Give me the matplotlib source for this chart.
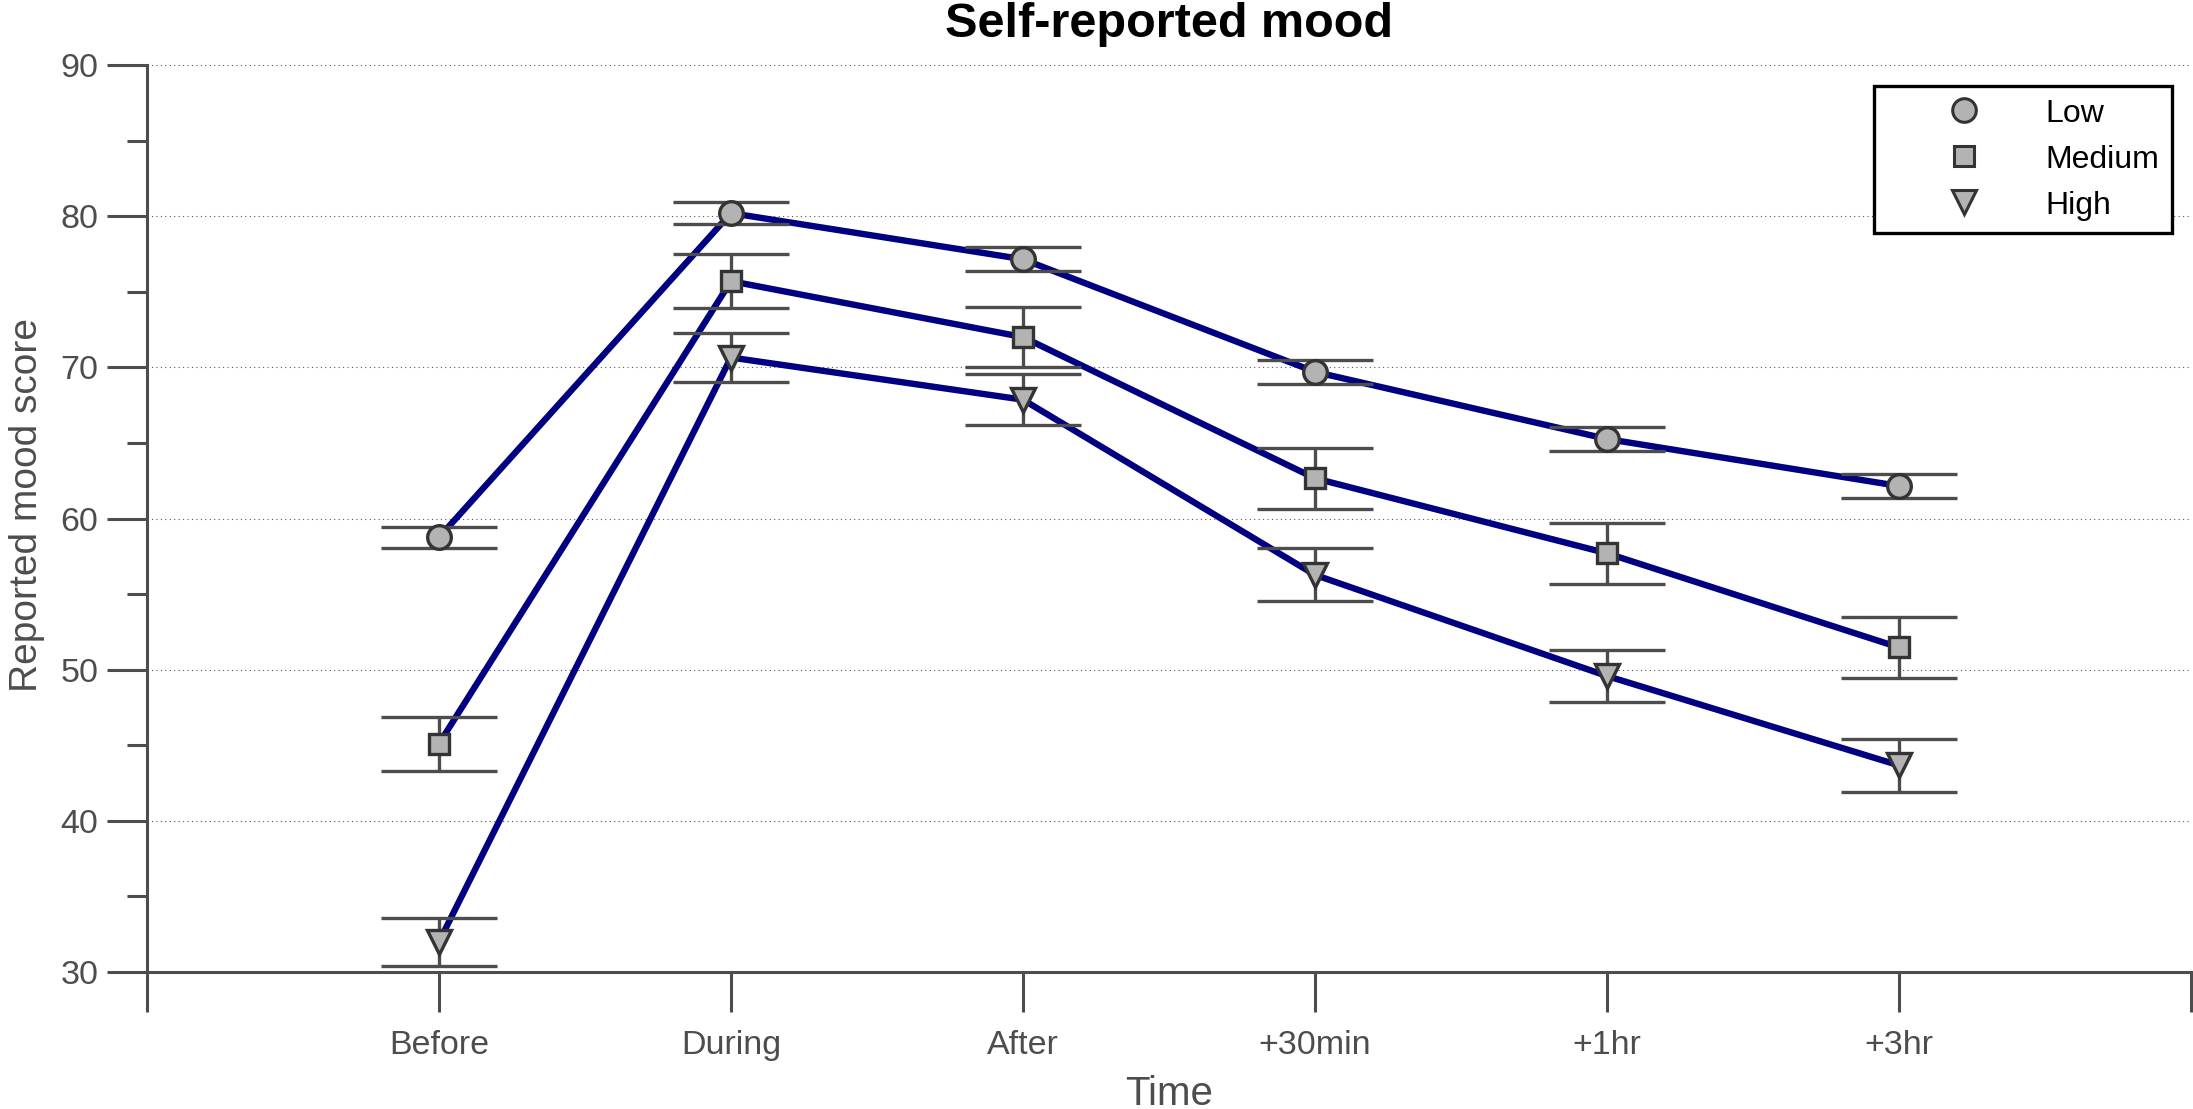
import numpy as np
import matplotlib
matplotlib.use("Agg")
import matplotlib.pyplot as plt
from matplotlib.lines import Line2D

plt.rcParams['font.family'] = ['Liberation Sans', 'DejaVu Sans']

# datos
tiempos = ['Before', 'During', 'After', '+30min', '+1hr', '+3hr']
grupos = ['Low', 'Medium', 'High']
marcadores = ['o', 's', 'v']
tam_marcador = [17, 15, 17]

low = [58.75, 80.2, 77.15, 69.7, 65.26, 62.15]
low_err = [0.72, 0.73, 0.78, 0.78, 0.78, 0.8]
medium = [45.1, 75.7, 72.0, 62.66, 57.7, 51.47]
medium_err = [1.8, 1.78, 2.0, 2.0, 2.0, 2.0]
high = [32.0, 70.65, 67.86, 56.27, 49.58, 43.67]
high_err = [1.6, 1.6, 1.7, 1.75, 1.75, 1.77]

valores = [low, medium, high]
errores = [low_err, medium_err, high_err]

gris = '#4d4d4d'
x = np.arange(1, len(tiempos) + 1)

fig = plt.figure(figsize=(21.93, 11.09), dpi=100)
ax = fig.add_axes([0.0670, 0.1235, 0.9321, 0.8179])

for i in range(len(grupos)):
    ax.plot(x, valores[i], color='#000080', lw=4.6, zorder=2)
    ax.errorbar(x, valores[i], yerr=errores[i], fmt='none', ecolor=gris,
                elinewidth=2.4, capsize=42, capthick=2.4, zorder=3)
    ax.plot(x, valores[i], linestyle='none', marker=marcadores[i],
            ms=tam_marcador[i], mfc='#b3b3b3', mec='#333333', mew=2.4, zorder=4)

ax.set_xlim(0, 7)
ax.set_ylim(30, 90)
ax.set_xticks(range(0, 8))
ax.set_xticklabels([''] + tiempos + [''])
ax.set_yticks(range(30, 91, 10))
ax.set_yticks(range(35, 90, 10), minor=True)

ax.tick_params(axis='both', which='major', direction='out', length=29, width=2.2,
               color=gris, labelcolor=gris, labelsize=24.5)
ax.tick_params(axis='y', which='minor', direction='out', length=14.5, width=2.2, color=gris)
ax.tick_params(axis='x', pad=13)
ax.tick_params(axis='y', pad=6)

for s in ['top', 'right']:
    ax.spines[s].set_visible(False)
for s in ['left', 'bottom']:
    ax.spines[s].set_linewidth(2.2)
    ax.spines[s].set_color(gris)

ax.yaxis.grid(True, which='major', color='#555555', linestyle=(0, (1, 3)), lw=0.8)
ax.set_axisbelow(True)

ax.set_title('Self-reported mood', fontsize=35, fontweight='bold', color='black', pad=20)
ax.set_xlabel('Time', fontsize=29, color=gris, labelpad=10)
ax.set_ylabel('Reported mood score', fontsize=28, color=gris, labelpad=11)
ax.yaxis.label.set_y(0.515)

# leyenda solo con marcadores
proxies = [Line2D([], [], linestyle='none', marker=marcadores[i], ms=tam_marcador[i],
                  mfc='#b3b3b3', mec='#333333', mew=2.2) for i in range(len(grupos))]
leg = ax.legend(proxies, grupos, loc='upper right', bbox_to_anchor=(0.9907, 0.977),
                borderaxespad=0, fontsize=23, handlelength=4.8, handletextpad=0.15,
                borderpad=0.4, labelspacing=0.5, fancybox=False, framealpha=1,
                edgecolor='black')
leg.get_frame().set_linewidth(2.4)
for t in leg.get_texts():
    t.set_color('black')

fig.savefig('out.png', dpi=100)
